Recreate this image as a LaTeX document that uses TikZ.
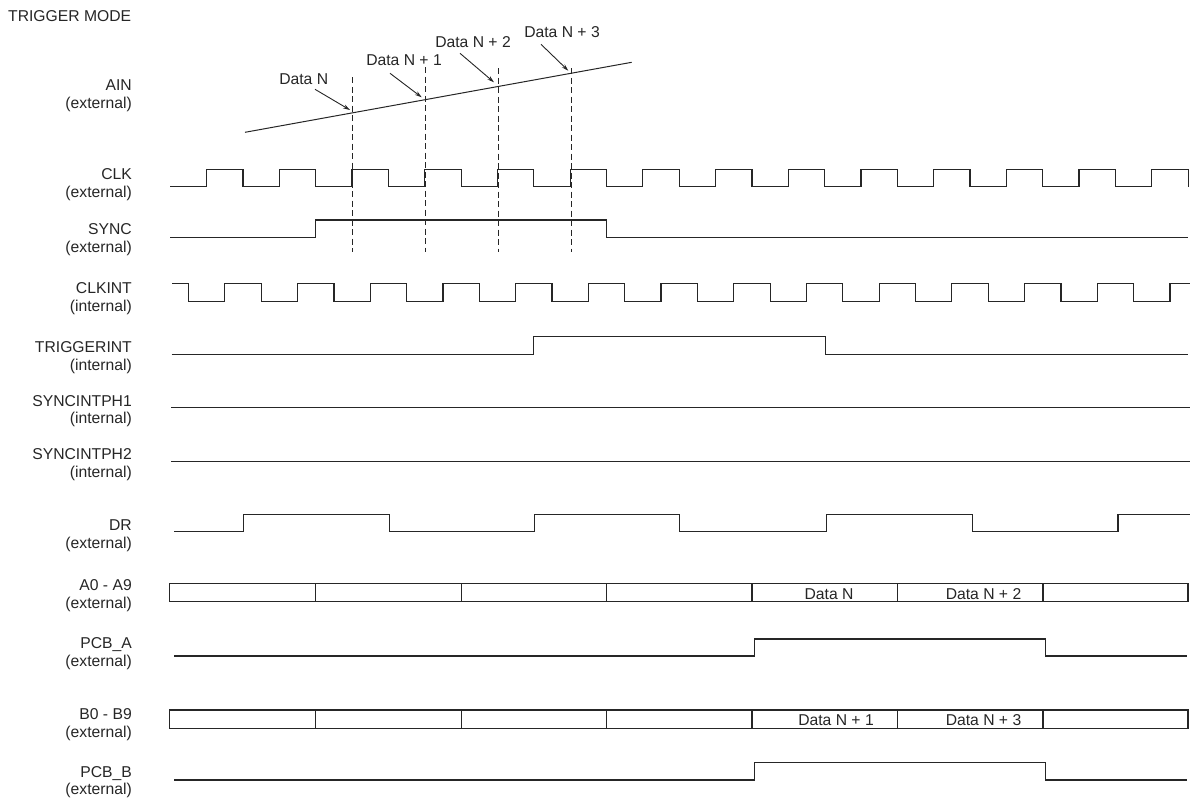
\documentclass[tikz,border=0pt]{standalone}
\usepackage{fontspec}
\setmainfont{Liberation Sans}
\usetikzlibrary{arrows.meta}
\begin{document}
\begin{tikzpicture}[x=1pt,y=-1pt,
  wave/.style={line width=1.2pt, draw=black!85, line join=miter},
  thin/.style={line width=1.0pt, draw=black!85},
  dashln/.style={line width=0.9pt, draw=black!85, dash pattern=on 6pt off 3.5pt},
  pointer/.style={line width=0.9pt, draw=black!85, -{Stealth[length=7pt,width=4.2pt]}},
  txt/.style={inner sep=0pt, text=black!85, font=\fontsize{15.7}{17.5}\selectfont},
  lab/.style={txt, anchor=base east}]
\useasboundingbox (0,0) rectangle (1198,800);

% title
\node[txt, anchor=base west] (title) at (8,21.7) {TRIGGER MODE};

% signal labels
\foreach \n/\a/\b/\y in {ain/AIN/external/90.6, clk/CLK/external/179.6,
  sync/SYNC/external/234.9, clkint/CLKINT/internal/293.9,
  trig/TRIGGERINT/internal/352.9, ph1/SYNCINTPH1/internal/406.3,
  ph2/SYNCINTPH2/internal/459.6, dr/DR/external/530.6,
  abus/A0 - A9/external/590.6, pcba/PCB\_A/external/648.9,
  bbus/B0 - B9/external/719.6, pcbb/PCB\_B/external/777.3}
{
  \node[lab] (l-\n) at (132,\y) {\a};
  \node[lab] (s-\n) at (132,\y+17.5) {(\b)};
}

% AIN ramp
\draw[thin] (245,132.3) -- (631.7,62.3);

% sample markers (dashed)
\draw[dashln] (352.7,77) -- (352.7,252);
\draw[dashln] (425.7,67) -- (425.7,252);
\draw[dashln] (498.7,68) -- (498.7,252);
\draw[dashln] (571.3,68) -- (571.3,252);

% sample labels and pointers
\node[txt, anchor=base] (tN)  at (303.7,84.6) {Data N};
\node[txt, anchor=base] (tN1) at (404,65.6) {Data N + 1};
\node[txt, anchor=base] (tN2) at (473,47.3) {Data N + 2};
\node[txt, anchor=base] (tN3) at (562,37.3) {Data N + 3};
\coordinate (pN-s)  at (315,89.3);   \coordinate (pN-e)  at (350,110);
\coordinate (pN1-s) at (390,73.3);   \coordinate (pN1-e) at (421.7,97.3);
\coordinate (pN2-s) at (460,53.3);   \coordinate (pN2-e) at (494,82.3);
\coordinate (pN3-s) at (541,44.3);   \coordinate (pN3-e) at (568.3,70.7);
\draw[pointer] (pN-s) -- (pN-e);
\draw[pointer] (pN1-s) -- (pN1-e);
\draw[pointer] (pN2-s) -- (pN2-e);
\draw[pointer] (pN3-s) -- (pN3-e);

% CLK
\draw[wave] (170.3,186.7) \foreach \k in {1,...,14} { -- ++(36.35,0) -- ++(0,-17.4) -- ++(36.35,0) -- ++(0,17.4) };

% SYNC
\draw[wave] (170.3,237.3) -- (315.7,237.3) -- (315.7,220) -- (606.5,220) -- (606.5,237.3) -- (1188,237.3);

% CLKINT
\draw[wave] (172.3,283.3) -- (188.5,283.3)
  \foreach \k in {1,...,13} { -- ++(0,18.4) -- ++(36.35,0) -- ++(0,-18.4) -- ++(36.35,0) }
  -- ++(0,18.4) -- ++(36.35,0) -- ++(0,-18.4) -- ++(20,0);

% TRIGGERINT
\draw[wave] (171.6,354.3) -- (533.8,354.3) -- (533.8,336.7) -- (825.3,336.7) -- (825.3,354.3) -- (1188,354.3);

% SYNCINTPH1 / SYNCINTPH2
\draw[wave] (171,407.3) -- (1190,407.3);
\draw[wave] (171,461.7) -- (1190,461.7);

% DR
\draw[wave] (174,531.7) -- (243.7,531.7) -- (243.7,514.3) -- (389.7,514.3) -- (389.7,531.7)
  -- (534.5,531.7) -- (534.5,514.3) -- (679.7,514.3) -- (679.7,531.7)
  -- (826.7,531.7) -- (826.7,514.3) -- (972.3,514.3) -- (972.3,531.7)
  -- (1118,531.7) -- (1118,514.3) -- (1189.7,514.3);

% A0 - A9 bus
\draw[wave] (169.5,583.3) rectangle (1188,601.7);
\foreach \x in {315.7,461.1,606.5,752,897.3,1043} \draw[wave] (\x,583.3) -- (\x,601.7);
\node[txt, anchor=base] (aN)  at (829,599) {Data N};
\node[txt, anchor=base] (aN2) at (983.5,599) {Data N + 2};

% PCB_A
\draw[wave] (174,656) -- (754.4,656) -- (754.4,639) -- (1045.3,639) -- (1045.3,656) -- (1187.3,656);

% B0 - B9 bus
\draw[wave] (169.5,710) rectangle (1188,728.3);
\foreach \x in {315.7,461.1,606.5,752,897.3,1043} \draw[wave] (\x,710) -- (\x,728.3);
\node[txt, anchor=base] (bN1) at (836,725) {Data N + 1};
\node[txt, anchor=base] (bN3) at (983.5,725) {Data N + 3};

% PCB_B
\draw[wave] (174,780) -- (754.4,780) -- (754.4,762.3) -- (1045.3,762.3) -- (1045.3,780) -- (1187.3,780);
\end{tikzpicture}
\end{document}
